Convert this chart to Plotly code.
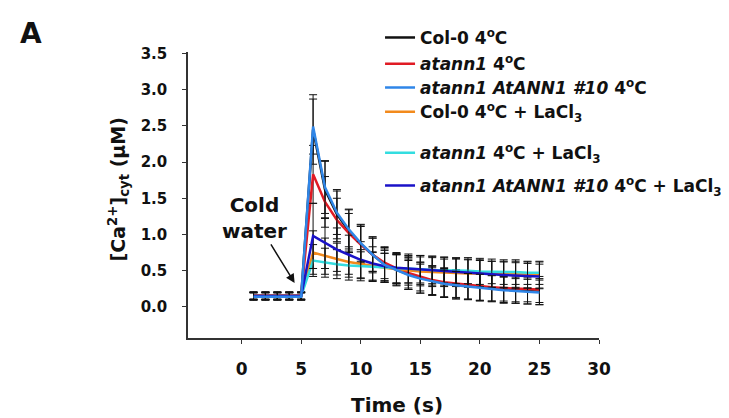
import plotly.graph_objects as go

time = list(range(1, 26))

col0_4c = [0.15, 0.15, 0.15, 0.15, 0.15, 2.45, 1.62, 1.28, 1.05, 0.87, 0.72, 0.59, 0.51, 0.45, 0.40,
           0.36, 0.33, 0.31, 0.29, 0.27, 0.26, 0.24, 0.23, 0.22, 0.21]
col0_4c_err = [0.05, 0.05, 0.05, 0.05, 0.05, 0.48, 0.40, 0.34, 0.30, 0.27, 0.25, 0.23, 0.22, 0.21, 0.21,
               0.20, 0.20, 0.20, 0.19, 0.19, 0.18, 0.18, 0.18, 0.18, 0.18]

atann1_4c = [0.16, 0.16, 0.16, 0.16, 0.16, 1.83, 1.45, 1.20, 1.02, 0.86, 0.72, 0.61, 0.53, 0.47, 0.42,
             0.37, 0.34, 0.32, 0.30, 0.28, 0.27, 0.26, 0.25, 0.25, 0.24]
atann1_4c_err = [0.05, 0.05, 0.05, 0.05, 0.05, 0.40, 0.35, 0.30, 0.27, 0.25, 0.23, 0.22, 0.21, 0.21, 0.20,
                 0.20, 0.20, 0.19, 0.19, 0.19, 0.19, 0.18, 0.18, 0.18, 0.18]

comp_4c = [0.14, 0.14, 0.14, 0.14, 0.14, 2.49, 1.65, 1.30, 1.07, 0.88, 0.72, 0.58, 0.51, 0.44, 0.39,
           0.35, 0.32, 0.30, 0.28, 0.27, 0.25, 0.23, 0.22, 0.21, 0.20]
comp_4c_err = [0.05, 0.05, 0.05, 0.05, 0.05, 0.38, 0.36, 0.30, 0.27, 0.25, 0.23, 0.22, 0.21, 0.20, 0.20,
               0.19, 0.19, 0.19, 0.18, 0.18, 0.18, 0.18, 0.17, 0.17, 0.17]

col0_la = [0.15, 0.15, 0.15, 0.15, 0.15, 0.75, 0.70, 0.66, 0.62, 0.59, 0.56, 0.54, 0.52, 0.50, 0.49,
           0.48, 0.47, 0.47, 0.46, 0.46, 0.45, 0.45, 0.45, 0.44, 0.44]
col0_la_err = [0.05, 0.05, 0.05, 0.05, 0.05, 0.30, 0.25, 0.22, 0.21, 0.20, 0.20, 0.20, 0.20, 0.20, 0.20,
               0.20, 0.19, 0.19, 0.19, 0.19, 0.18, 0.18, 0.18, 0.18, 0.18]

atann1_la = [0.15, 0.15, 0.15, 0.15, 0.15, 0.64, 0.61, 0.59, 0.57, 0.56, 0.55, 0.54, 0.53, 0.52, 0.52,
             0.51, 0.51, 0.50, 0.50, 0.49, 0.49, 0.48, 0.48, 0.47, 0.47]
atann1_la_err = [0.05, 0.05, 0.05, 0.05, 0.05, 0.22, 0.20, 0.20, 0.20, 0.20, 0.20, 0.20, 0.20, 0.19, 0.19,
                 0.19, 0.18, 0.18, 0.18, 0.18, 0.17, 0.17, 0.17, 0.16, 0.16]

comp_la = [0.15, 0.15, 0.15, 0.15, 0.15, 0.98, 0.88, 0.79, 0.72, 0.65, 0.60, 0.56, 0.54, 0.53, 0.51,
           0.50, 0.49, 0.48, 0.47, 0.46, 0.45, 0.44, 0.43, 0.43, 0.42]
comp_la_err = [0.05, 0.05, 0.05, 0.05, 0.05, 0.45, 0.35, 0.30, 0.27, 0.25, 0.23, 0.22, 0.21, 0.20, 0.20,
               0.20, 0.19, 0.19, 0.19, 0.18, 0.18, 0.18, 0.18, 0.17, 0.17]

series_names = [
    "Col-0 4<sup>o</sup>C",
    "<i>atann1</i> 4<sup>o</sup>C",
    "<i>atann1 AtANN1 #10</i> 4<sup>o</sup>C",
    "Col-0 4<sup>o</sup>C + LaCl<sub>3</sub>",
    "<i>atann1</i> 4<sup>o</sup>C + LaCl<sub>3</sub>",
    "<i>atann1 AtANN1 #10</i> 4<sup>o</sup>C + LaCl<sub>3</sub>",
]
series_values = [col0_4c, atann1_4c, comp_4c, col0_la, atann1_la, comp_la]
series_errors = [col0_4c_err, atann1_4c_err, comp_4c_err, col0_la_err, atann1_la_err, comp_la_err]
series_colors = ["#111111", "#e01b24", "#2f86e8", "#f28a1c", "#33dde0", "#1a12c8"]

y_ticks = [0.0, 0.5, 1.0, 1.5, 2.0, 2.5, 3.0, 3.5]
x_ticks = [0, 5, 10, 15, 20, 25, 30]

FONT = "DejaVu Sans, sans-serif"
INK = "#111111"

legend_y = [0.927, 0.863, 0.805, 0.746, 0.646, 0.566]
legend_keys = ["legend", "legend2", "legend3", "legend4", "legend5", "legend6"]

fig = go.Figure()
draw_order = [0, 1, 3, 4, 5, 2]
for i in draw_order:
    fig.add_trace(go.Scatter(
        x=time, y=series_values[i], mode="lines", name=series_names[i],
        line=dict(color=series_colors[i], width=2.5),
        error_y=dict(type="data", array=series_errors[i], color=INK, thickness=1, width=4),
        legend=legend_keys[i],
    ))

layout_legends = {}
for i, key in enumerate(legend_keys):
    layout_legends[key] = dict(
        xref="container", yref="container",
        x=0.516, y=legend_y[i], xanchor="left", yanchor="middle",
        bgcolor="rgba(0,0,0,0)", borderwidth=0,
        font=dict(family=FONT, size=17, color=INK, weight="bold"),
    )

fig.update_layout(
    width=721, height=410,
    margin=dict(l=180, r=130, t=44, b=80, autoexpand=False),
    paper_bgcolor="white", plot_bgcolor="white",
    showlegend=True,
    font=dict(family=FONT, color=INK),
    **layout_legends,
)

fig.update_xaxes(
    range=[-4.5, 30], tickvals=x_ticks, showgrid=False, zeroline=False,
    showline=True, linecolor="#333333", linewidth=1.5,
    ticks="outside", ticklen=4, tickcolor="#333333", ticklabelstandoff=11,
    tickfont=dict(family=FONT, size=17, color=INK, weight="bold"),
)
fig.update_yaxes(
    range=[-0.43, 3.52], tickvals=y_ticks, tickformat=".1f", showgrid=False, zeroline=False,
    showline=True, linecolor="#333333", linewidth=1.5,
    ticks="outside", ticklen=4, tickcolor="#333333", ticklabelstandoff=12,
    tickfont=dict(family=FONT, size=15, color=INK, weight="bold"),
)

fig.add_annotation(
    text="Time (s)", xref="paper", yref="paper", x=0.508, y=-0.236,
    xanchor="center", yanchor="middle", showarrow=False,
    font=dict(family=FONT, size=20, color=INK, weight="bold"),
)
fig.add_annotation(
    text="[Ca<sup>2+</sup>]<sub>cyt</sub> (μM)", xref="paper", yref="paper",
    x=-0.170, y=0.52, xanchor="center", yanchor="middle", textangle=-90, showarrow=False,
    font=dict(family=FONT, size=19, color=INK, weight="bold"),
)
fig.add_annotation(
    text="A", xref="paper", yref="paper", x=-0.382, y=1.066,
    xanchor="center", yanchor="middle", showarrow=False,
    font=dict(family=FONT, size=28, color=INK, weight="bold"),
)
fig.add_annotation(
    text="Cold<br>water", x=4.45, y=0.33, xref="x", yref="y",
    ax=-40, ay=-65, showarrow=True, arrowhead=2, arrowsize=1.2, arrowwidth=1.5,
    arrowcolor=INK,
    font=dict(family=FONT, size=20, color=INK, weight="bold"),
)

fig.write_html("out.html")
